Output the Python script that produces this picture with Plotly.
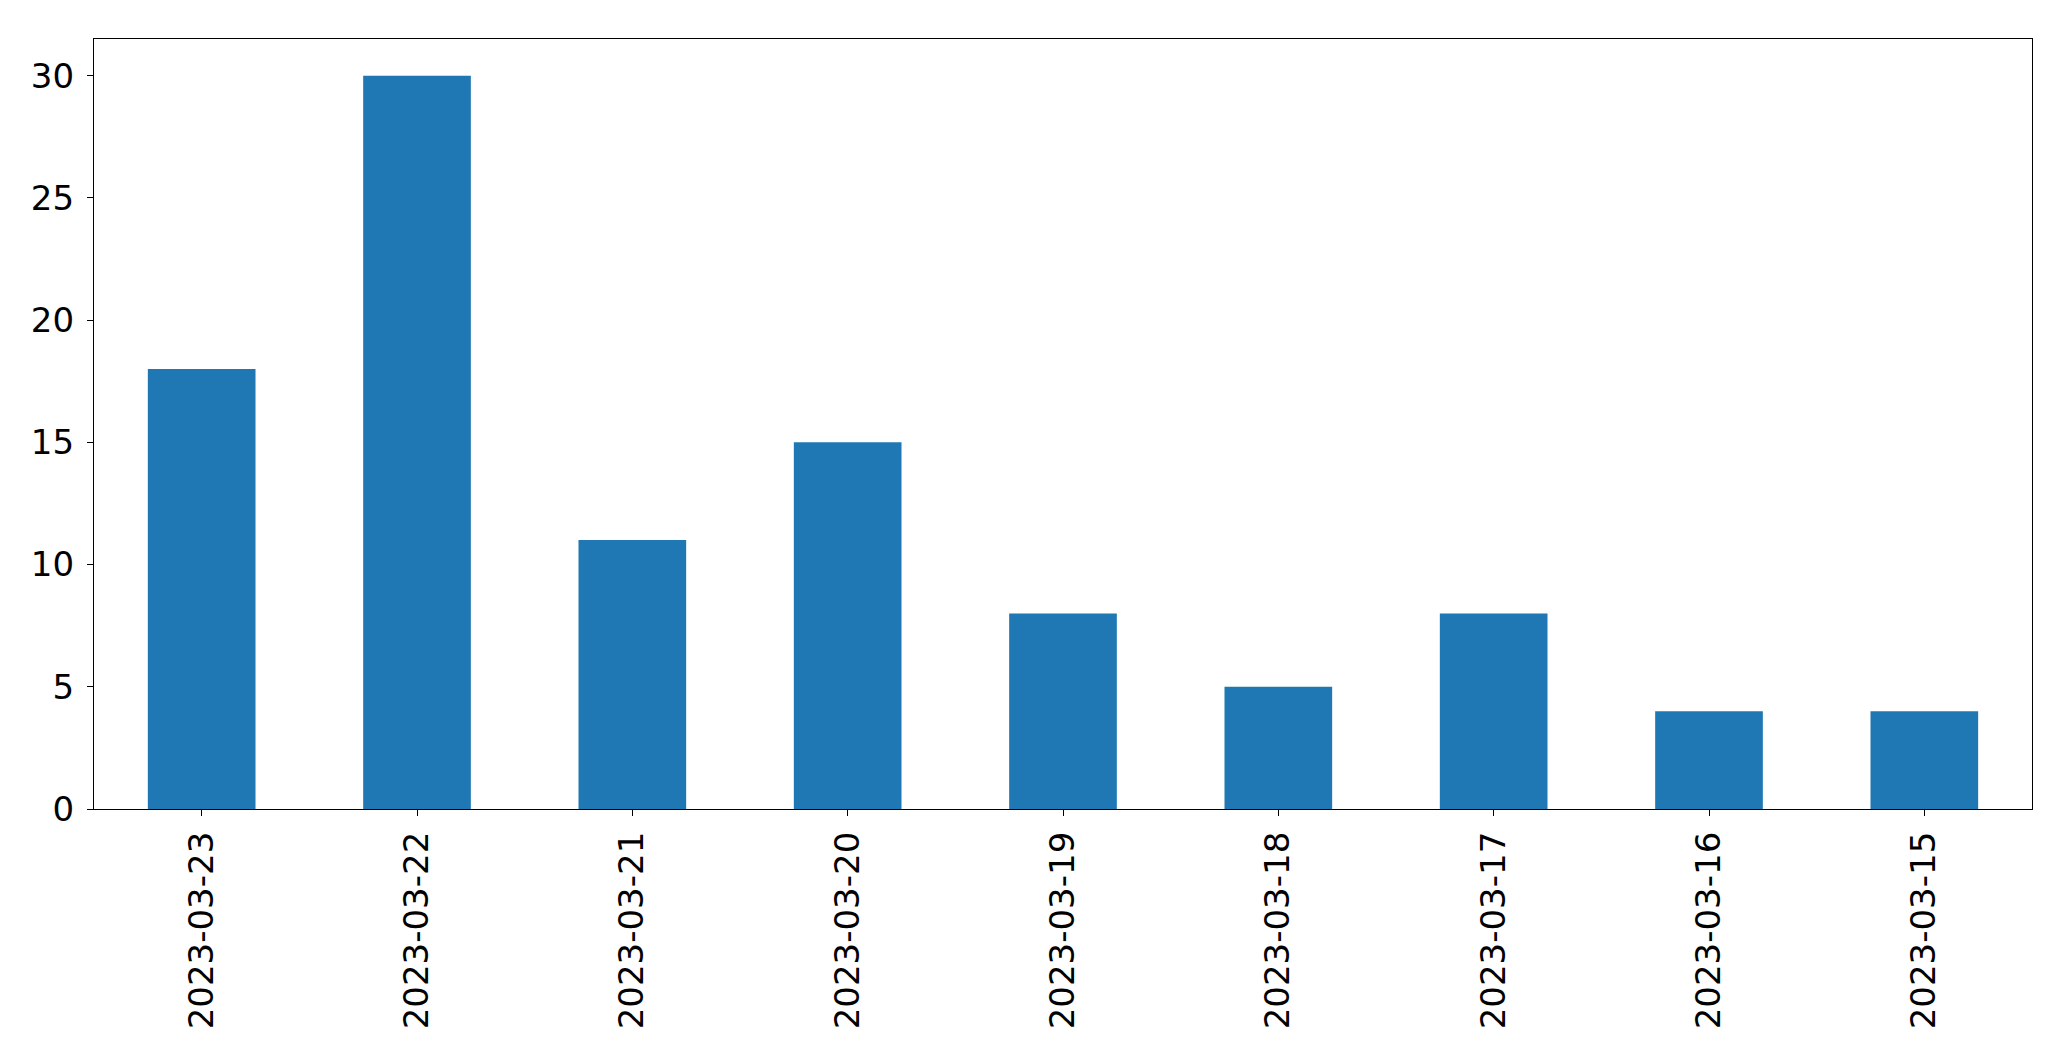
import plotly.graph_objects as go

dates = ["2023-03-23", "2023-03-22", "2023-03-21", "2023-03-20", "2023-03-19",
         "2023-03-18", "2023-03-17", "2023-03-16", "2023-03-15"]
counts = [18, 30, 11, 15, 8, 5, 8, 4, 4]
y_ticks = [0, 5, 10, 15, 20, 25, 30]

fig = go.Figure(go.Bar(x=dates, y=counts, marker_color="#1f77b4",
                       marker_line_width=0, width=0.5))

fig.update_layout(
    width=2071, height=1061,
    margin=dict(l=94, r=39, t=39, b=252),
    paper_bgcolor="white", plot_bgcolor="white",
    font=dict(family="DejaVu Sans", size=34, color="black"),
    showlegend=False,
)
fig.update_xaxes(type="category", range=[-0.5, 8.5], tickangle=-90,
                 showline=True, linecolor="black", linewidth=1.3, mirror=True,
                 ticks="outside", ticklen=6, tickcolor="black", tickwidth=1.3,
                 showgrid=False, zeroline=False, ticklabelstandoff=2)
fig.update_yaxes(range=[0, 31.5], tickvals=y_ticks,
                 showline=True, linecolor="black", linewidth=1.3, mirror=True,
                 ticks="outside", ticklen=6, tickcolor="black", tickwidth=1.3,
                 showgrid=False, zeroline=False, ticklabelstandoff=6)

fig.write_html("out.html", config={"displayModeBar": False},
               post_script="document.body.style.margin='0px';document.body.style.overflow='hidden';")
